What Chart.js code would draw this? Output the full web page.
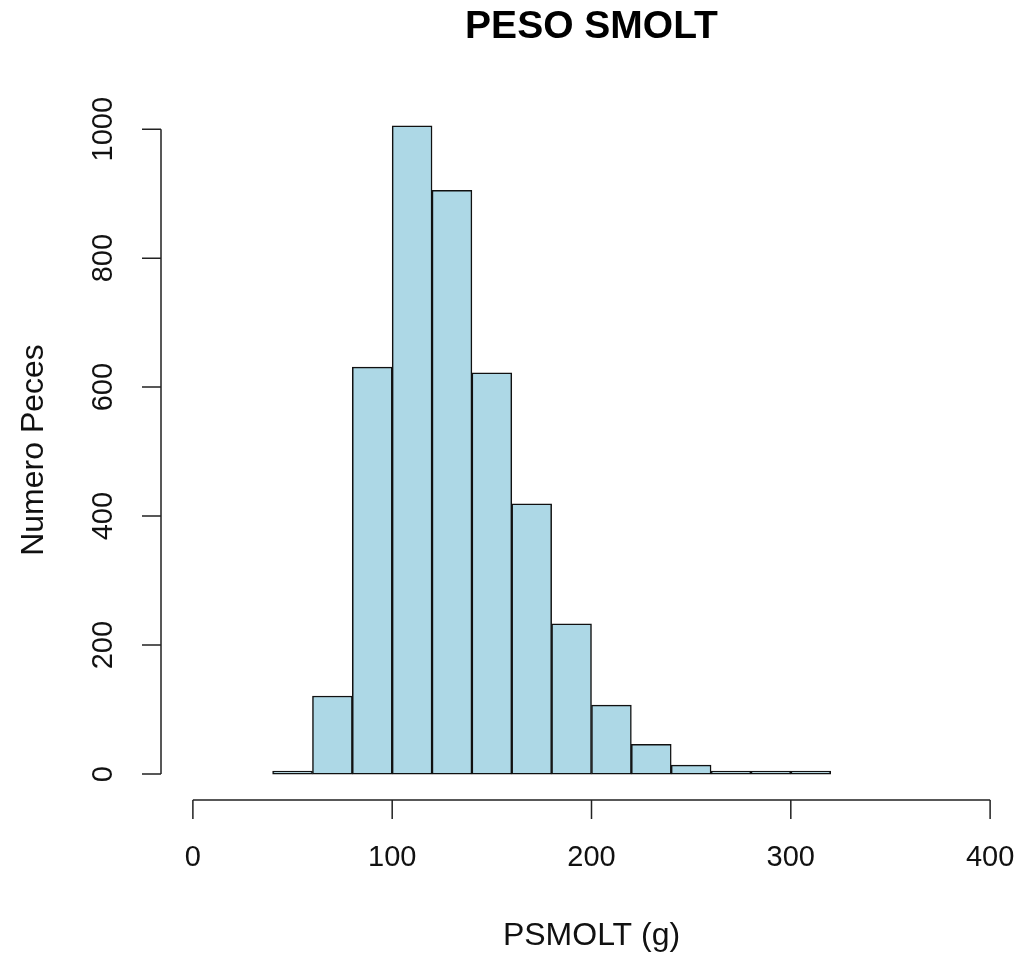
<!DOCTYPE html>
<html>
<head>
<meta charset="utf-8">
<script src="https://cdn.jsdelivr.net/npm/chart.js@4/dist/chart.umd.min.js"></script>
<style>
  html, body { margin: 0; padding: 0; background: #fff; }
  canvas { display: block; }
</style>
</head>
<body>
<canvas id="histo" width="1022" height="960"></canvas>
<script>
// datos del histograma (intervalos de 20 g)
const binStarts = [40, 60, 80, 100, 120, 140, 160, 180, 200, 220, 240, 260, 280, 300];
const binWidth = 20;
const counts = [3, 121, 631, 1005, 905, 622, 419, 233, 107, 46, 14, 3, 2, 2];
const xTicks = [0, 100, 200, 300, 400];
const yTicks = [0, 200, 400, 600, 800, 1000];

const titulo = "PESO SMOLT";
const tituloX = "PSMOLT (g)";
const tituloY = "Numero Peces";

const FONT = '"Liberation Sans", Arial, sans-serif';

// ejes estilo R, separados del area de las barras
const ejesR = {
    id: "ejesR",
    afterDraw(chart) {
        const ctx = chart.ctx;
        const xs = chart.scales.x;
        const ys = chart.scales.y;
        const area = chart.chartArea;
        ctx.save();
        ctx.strokeStyle = "#222";
        ctx.lineWidth = 1.5;
        ctx.fillStyle = "#111";

        // eje x
        const xb = area.bottom;
        ctx.beginPath();
        ctx.moveTo(xs.getPixelForValue(xTicks[0]), xb);
        ctx.lineTo(xs.getPixelForValue(xTicks[xTicks.length - 1]), xb);
        xTicks.forEach(t => {
            const px = xs.getPixelForValue(t);
            ctx.moveTo(px, xb);
            ctx.lineTo(px, xb + 19);
        });
        ctx.stroke();
        ctx.font = "29px " + FONT;
        ctx.textAlign = "center";
        ctx.textBaseline = "middle";
        xTicks.forEach(t => {
            ctx.fillText(String(t), xs.getPixelForValue(t), xb + 58);
        });

        // eje y
        const yl = area.left;
        ctx.beginPath();
        ctx.moveTo(yl, ys.getPixelForValue(yTicks[0]));
        ctx.lineTo(yl, ys.getPixelForValue(yTicks[yTicks.length - 1]));
        yTicks.forEach(t => {
            const py = ys.getPixelForValue(t);
            ctx.moveTo(yl, py);
            ctx.lineTo(yl - 19, py);
        });
        ctx.stroke();
        yTicks.forEach(t => {
            ctx.save();
            ctx.translate(yl - 57, ys.getPixelForValue(t));
            ctx.rotate(-Math.PI / 2);
            ctx.fillText(String(t), 0, 0);
            ctx.restore();
        });

        // titulos
        const cx = (area.left + area.right) / 2;
        const cy = (area.top + area.bottom) / 2;
        ctx.font = "32px " + FONT;
        ctx.fillText(tituloX, cx, 936);
        ctx.save();
        ctx.translate(34, cy);
        ctx.rotate(-Math.PI / 2);
        ctx.fillText(tituloY, 0, 0);
        ctx.restore();

        ctx.fillStyle = "#000";
        ctx.font = "bold 39px " + FONT;
        ctx.fillText(titulo, cx, 27);
        ctx.restore();
    }
};

const ctx = document.getElementById("histo").getContext("2d");
const histo = new Chart(ctx, {
    type: "bar",
    data: {
        datasets: [{
            label: "Numero Peces",
            data: binStarts.map((b, i) => ({ x: b + binWidth / 2, y: counts[i] })),
            backgroundColor: "#ADD8E6",
            borderColor: "#111",
            borderWidth: 1.5,
            borderSkipped: false,
            minBarLength: 3,
            barPercentage: 1,
            categoryPercentage: 1
        }]
    },
    options: {
        responsive: false,
        animation: false,
        layout: { padding: { left: 161, right: 0, top: 100, bottom: 160 } },
        plugins: {
            legend: { display: false },
            title: { display: false },
            tooltip: { enabled: false }
        },
        scales: {
            x: {
                type: "linear", min: -16, max: 416, offset: false, display: false,
                // solo los ticks del eje, para que el ancho de barra salga del intervalo
                afterBuildTicks: scale => { scale.ticks = xTicks.map(v => ({ value: v })); }
            },
            y: {
                type: "linear", min: -40.2, max: 1045.2, display: false,
                afterBuildTicks: scale => { scale.ticks = yTicks.map(v => ({ value: v })); }
            }
        }
    },
    plugins: [ejesR]
});
</script>
</body>
</html>
